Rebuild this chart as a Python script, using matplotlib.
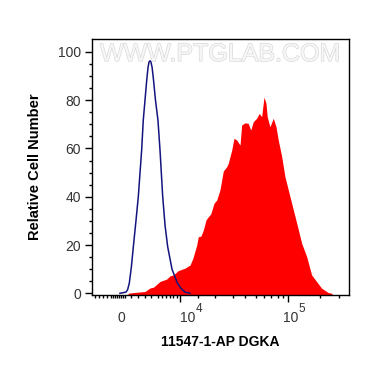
import numpy as np
import matplotlib.pyplot as plt
import matplotlib.patheffects as pe
from matplotlib.transforms import blended_transform_factory

plt.rcParams['font.family'] = ['Liberation Sans', 'DejaVu Sans']

# x is in display units: one decade = 1.0, 10^4 at 4, 10^5 at 5 (biexponential view)
ctrl_x = [3.444, 3.500, 3.515, 3.531, 3.550, 3.568, 3.590, 3.614, 3.630, 3.645,
          3.660, 3.676, 3.692, 3.704, 3.713, 3.722, 3.731, 3.742, 3.755, 3.773,
          3.796, 3.815, 3.840, 3.862, 3.886, 3.926, 3.975, 4.010, 4.046, 4.093]
ctrl_y = [0, 0.5, 1.5, 4.3, 11, 19.3, 29, 40, 50, 59.3,
          71.7, 80, 88.3, 93.5, 95.8, 96.3, 95.8, 93.5, 88.3, 80,
          71.7, 59.3, 40, 28, 19.3, 10, 4.3, 2, 0.5, 0]

sample_x = [3.519, 3.568, 3.676, 3.722, 3.753, 3.815, 3.877, 3.907, 3.938, 3.984,
            4.046, 4.093, 4.120, 4.155, 4.169, 4.194, 4.216, 4.241, 4.262, 4.284,
            4.315, 4.340, 4.370, 4.401, 4.432, 4.447, 4.463, 4.479, 4.500, 4.525,
            4.556, 4.571, 4.602, 4.632, 4.655, 4.679, 4.710, 4.734, 4.756, 4.778,
            4.796, 4.808, 4.833, 4.864, 4.889, 4.910, 4.942, 4.972, 5.003, 5.034,
            5.081, 5.127, 5.173, 5.219, 5.266, 5.312, 5.373, 5.407]
sample_y = [0, 0.3, 0.75, 2.2, 2.5, 4.9, 5.9, 7.2, 7.6, 9.4,
            10.4, 11.7, 14.6, 20.0, 23.4, 23.7, 26.2, 30.4, 31.7, 32.8,
            37.3, 38.6, 42.8, 50.6, 52.4, 53.8, 56.6, 59.3, 64.2, 63.5,
            61.4, 69.7, 70.6, 70.4, 67.6, 71.1, 72.5, 74.5, 73.1, 81.3,
            78.7, 73.1, 69.0, 72.5, 69.0, 63.5, 56.6, 48.3, 42.8, 37.3,
            29.0, 20.7, 15.2, 7.6, 4.8, 2.1, 0.3, 0]

major_x = [4, 5]
minor_x = [3.213, 3.250, 3.287, 3.324, 3.361, 3.380, 3.398, 3.417, 3.435, 3.454,
           3.472, 3.491, 3.546, 3.611, 3.676, 3.731, 3.796, 3.833, 3.870, 3.907,
           3.935, 3.972, 4.167, 4.324, 4.491, 4.602, 4.704, 4.778, 4.843, 4.907,
           4.954, 5.296, 5.472]
# tick label pieces: base text ends at pos, exponent starts there
xlabel_pos = [3.490, 4.139, 5.093]
xlabel_base = ['0', '10', '10']
xlabel_exp = ['', '4', '5']

fig = plt.figure(figsize=(3.7, 3.67), dpi=100)
ax = fig.add_axes([0.2486, 0.1962, 0.6946, 0.6967])

ax.text(0.498, 0.9425, 'WWW.PTGLAB.COM', transform=ax.transAxes, ha='center',
        va='center', fontsize=18, color='#f7f7f7', zorder=0,
        path_effects=[pe.withStroke(linewidth=0.9, foreground='#d6d6d6')])

ax.fill_between(sample_x, sample_y, -1, color='#ff0000', lw=0, zorder=2)
ax.plot(ctrl_x, ctrl_y, color='#141480', lw=1.1, zorder=3)

ax.set_xlim(3.185, 5.565)
ax.set_ylim(-0.7, 105.2)

ax.set_xticks(major_x)
ax.set_xticklabels([])
ax.set_xticks(minor_x, minor=True)
ax.set_yticks([0, 20, 40, 60, 80, 100])
ax.set_yticks(np.arange(0, 105, 5), minor=True)

ax.tick_params(axis='both', which='major', direction='out', length=5, width=1,
               labelsize=10, labelcolor='#333333')
ax.tick_params(axis='both', which='minor', direction='out', length=2.4, width=1)
ax.tick_params(axis='y', pad=3)

trans = blended_transform_factory(ax.transData, ax.transAxes)
for pos, base, ex in zip(xlabel_pos, xlabel_base, xlabel_exp):
    ax.text(pos, -0.1056, base, transform=trans, ha='right', va='baseline',
            fontsize=10, color='#333333')
    if ex:
        ax.text(pos + 0.004, -0.065, ex, transform=trans, ha='left',
                va='baseline', fontsize=8.5, color='#333333')

for s in ax.spines.values():
    s.set_linewidth(1)

fig.text(0.5946, 0.069, '11547-1-AP DGKA', ha='center', va='center',
         fontsize=10, fontweight='bold')
fig.text(0.0946, 0.546, 'Relative Cell Number', ha='center', va='center',
         rotation=90, fontsize=10.5, fontweight='bold')

fig.savefig('out.png', dpi=100)
